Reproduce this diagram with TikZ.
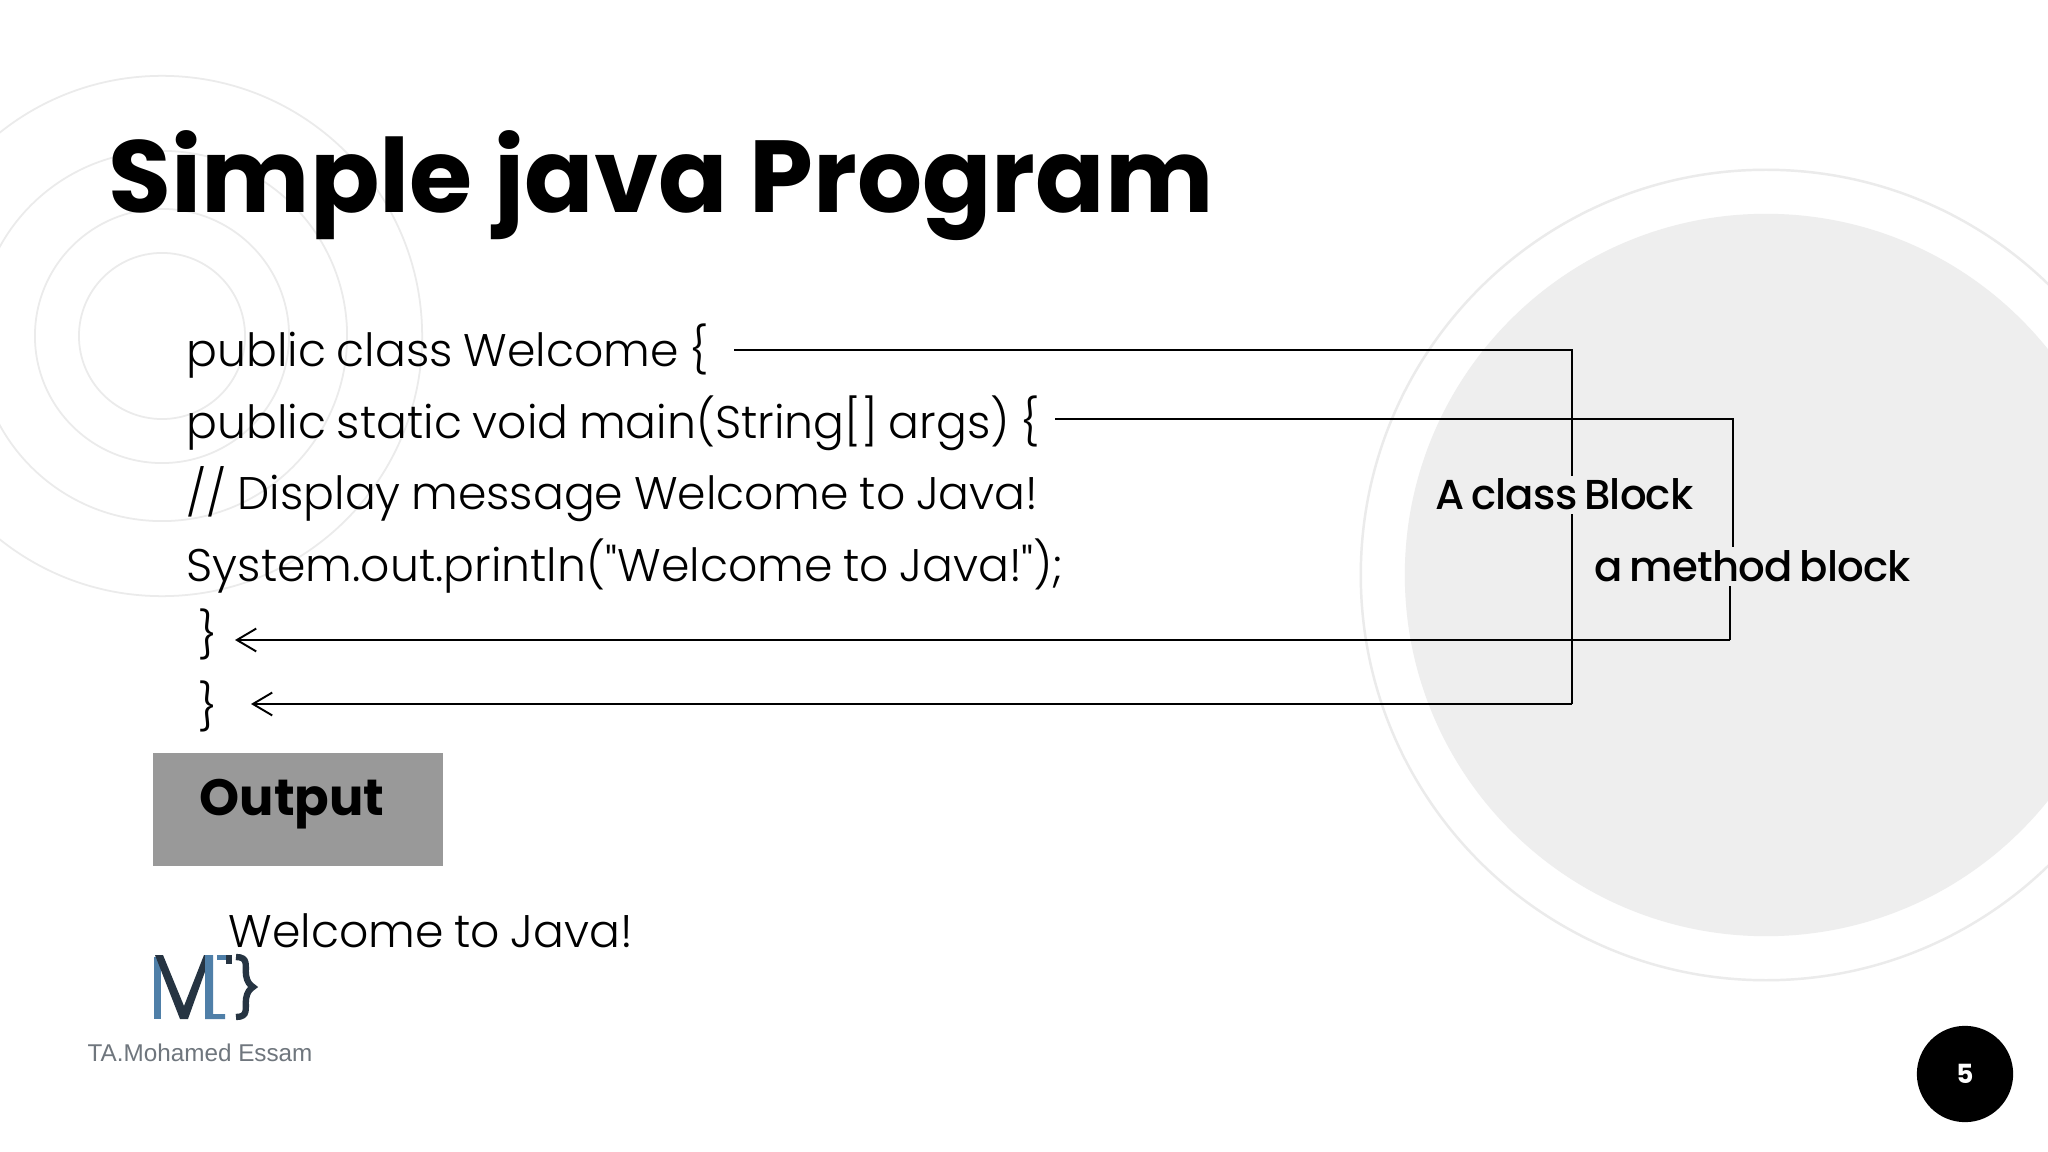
\documentclass[tikz,border=0pt]{standalone}
\usepackage{fontspec}
\setmainfont{Poppins}
\newfontfamily\codefont[WordSpace=0.85]{Poppins Light}
\newfontfamily\labelfont[LetterSpace=-2,WordSpace=0.7]{Poppins Medium}
\newfontfamily\logofont{Liberation Sans}
\usetikzlibrary{arrows.meta}
\definecolor{ringgray}{HTML}{EBEBEB}
\definecolor{discgray}{HTML}{EEEEEE}
\definecolor{boxgray}{HTML}{999999}
\definecolor{logoblue}{HTML}{4F7FA8}
\definecolor{logodark}{HTML}{263442}
\definecolor{logotext}{HTML}{6F767D}
\tikzset{
  codeline/.style={anchor=base west,inner sep=0pt,font=\codefont\fontsize{13}{15}\selectfont},
  blocklabel/.style={anchor=base west,inner sep=1pt,fill=discgray,font=\labelfont\fontsize{11.9}{14}\selectfont},
  ring/.style={draw=ringgray,line width=0.5pt},
  link/.style={draw=black,line width=0.55pt},
  linkarrow/.style={link,-{Straight Barb[length=5.5pt,width=6.5pt,line width=0.55pt]}}
}
\begin{document}
\begin{tikzpicture}[x=0.01cm,y=-0.01cm]
\useasboundingbox (0,0) rectangle (2048,1152);
\fill[white] (0,0) rectangle (2048,1152);
\draw[ring,line width=0.7pt] (1766,575) circle (4.05cm);
\fill[discgray] (1766,575) circle (3.61cm);
\foreach \r in {0.83,1.27,1.85,2.6}{
  \draw[ring] (162,336) circle (\r cm);
}
\node[anchor=base west,inner sep=0pt,font=\fontsize{29.1}{31}\selectfont\bfseries] (title) at (108,213) {Simple java Program};
\node[codeline] (classline) at (186,367) {public class Welcome \{};
\node[codeline] (methodline) at (186,439) {public static void main(String[] args) \{};
\node[codeline] (commentline) at (186,510) {// Display message Welcome to Java!};
\node[codeline] (printline) at (186,581) {System.out.println("Welcome to Java!");};
\node[codeline] (methodend) at (198,651) {\}};
\node[codeline] (classend) at (198,723) {\}};
\fill[boxgray] (153,753) rectangle (443,866);
\node[anchor=base west,inner sep=0pt,font=\fontsize{14.5}{16}\selectfont\bfseries] (output) at (199,815) {Output};
\node[codeline] (result) at (228,947) {Welcome to Java!};
% block links
\coordinate (classstart) at (734,350);
\coordinate (classcorner) at (1572,350);
\coordinate (classlow) at (1572,704);
\coordinate (classtip) at (251,704);
\coordinate (methodstart) at (1055,419);
\coordinate (methodcorner) at (1733,419);
\coordinate (methodbreak) at (1733,547);
\coordinate (methodresume) at (1730,585);
\coordinate (methodlow) at (1730,640);
\coordinate (methodtip) at (235,640);
\draw[link] (classstart) -- (classcorner) -- (classlow);
\draw[linkarrow] (classlow) -- (classtip);
\draw[link] (methodstart) -- (methodcorner) -- (methodbreak);
\draw[link] (methodresume) -- (methodlow);
\draw[linkarrow] (methodlow) -- (methodtip);
\node[blocklabel] (classlabel) at (1431,510) {A class Block};
\node[blocklabel] (methodlabel) at (1590,582) {a method block};
% logo
\fill[logoblue] (154,957) -- (161,957) -- (161,1019) -- (154,1019) -- cycle;
\fill[logodark] (155,955) -- (163,955) -- (184,1006) -- (204,955) -- (211,955) -- (188,1019) -- (180,1019) -- cycle;
\fill[logoblue] (205,955) -- (213,955) -- (213,1014) -- (225,1014) -- (225,1019) -- (205,1019) -- cycle;
\fill[logoblue] (217,955) -- (232,955) -- (232,960) -- (217,960) -- cycle;
\fill[logodark] (226,955) -- (232,955) -- (232,964) -- (226,964) -- cycle;
\draw[logodark,line width=1.8pt] (236,957) .. controls (249,957) and (245,966) .. (246,975) .. controls (247,982) and (250,985) .. (253,987) .. controls (250,989) and (247,992) .. (246,999) .. controls (245,1008) and (249,1017) .. (236,1017);
\node[anchor=base west,inner sep=0pt,text=logotext,font=\logofont\fontsize{6.9}{8}\selectfont] (logoname) at (87,1061) {TA.Mohamed Essam};
% page number
\node[circle,fill=black,minimum size=2.75cm*0.35,inner sep=0pt,text=white,font=\fontsize{7.5}{9}\selectfont\bfseries] (pagenum) at (1965,1074) {5};
\end{tikzpicture}
\end{document}
